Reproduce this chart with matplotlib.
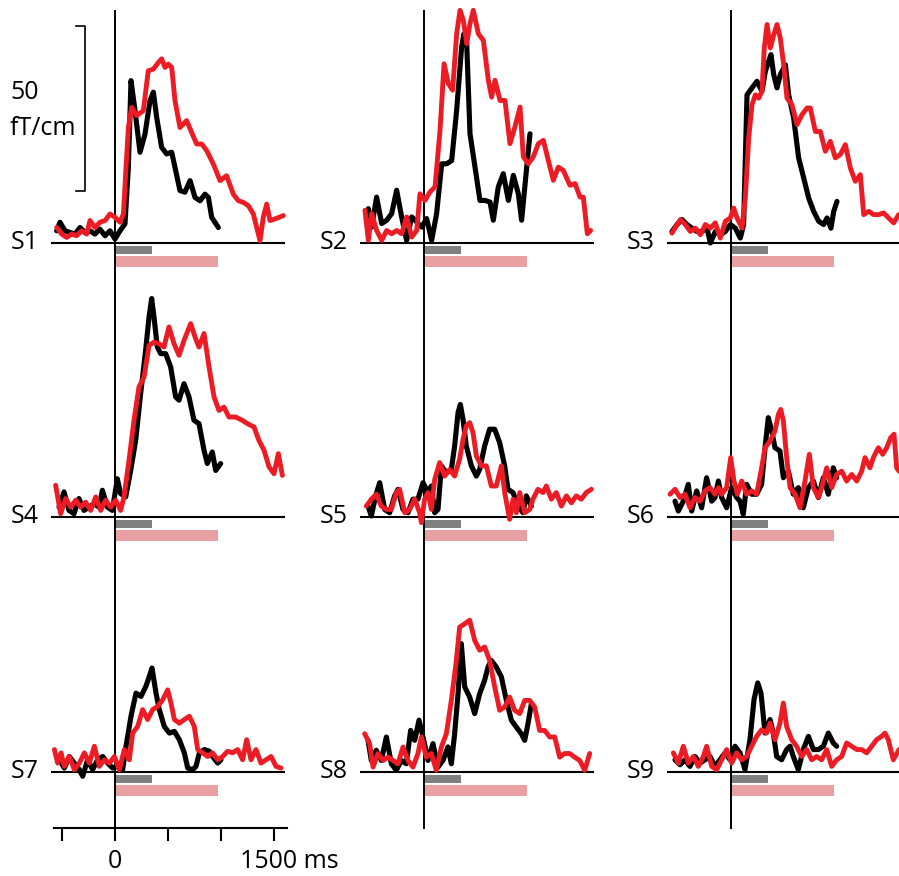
import matplotlib
matplotlib.use('Agg')
import matplotlib.pyplot as plt
from matplotlib.transforms import ScaledTranslation

plt.rcParams['font.family'] = ['Open Sans', 'DejaVu Sans']

# ---- data (time in ms, amplitude in fT/cm) ----
s1_black_t = [-550,-519,-472,-425,-377,-330,-283,-236,-189,-142,-94,-47,0,47,94,126,151,189,236,283,330,362,393,440,487,535,566,613,660,708,755,802,849,881,912,975]
s1_black_v = [3.7,6.3,3.7,3.2,2.7,4.7,3.2,3.7,2.7,4.2,2.2,3.7,1.2,3.7,5.8,22.9,49.2,40.1,27.5,33.0,43.1,45.7,38.1,29.0,27.0,27.5,22.9,15.9,15.4,18.9,13.8,12.8,14.8,13.8,7.8,4.7]
s1_red_t = [-550,-503,-456,-409,-362,-314,-267,-236,-189,-142,-94,-47,0,47,79,104,126,157,204,267,314,362,409,440,472,503,535,566,613,676,723,770,818,865,928,991,1053,1116,1164,1211,1258,1305,1368,1399,1431,1462,1509,1588]
s1_red_v = [4.7,2.7,1.7,2.7,2.2,3.7,2.7,6.8,4.7,6.3,6.8,8.8,7.8,6.3,8.8,22.9,35.0,41.1,38.6,40.1,52.2,52.7,54.7,55.8,53.2,54.2,53.2,43.1,35.0,37.1,33.5,30.0,30.0,28.0,23.9,18.9,20.4,14.8,12.8,12.3,11.3,8.8,0.7,7.8,11.8,6.8,7.3,8.3]

s2_black_t = [-525,-494,-447,-399,-352,-305,-258,-211,-164,-116,-69,-22,25,72,119,167,214,261,308,355,377,403,434,481,528,575,623,654,701,748,796,843,890,921,969,1000]
s2_black_v = [10.4,4.8,13.9,5.9,6.9,8.9,16.0,7.9,0.8,7.9,6.4,4.8,7.4,0.8,8.9,24.0,24.0,25.0,40.2,59.4,63.4,60.4,33.1,23.0,12.9,12.9,12.4,6.9,17.0,21.0,12.9,20.5,14.9,6.9,23.0,33.1]
s2_red_t = [-557,-525,-494,-447,-399,-352,-305,-258,-211,-164,-116,-69,-38,9,57,104,151,189,230,270,308,340,371,403,434,465,513,560,607,638,670,717,764,811,858,906,937,984,1031,1079,1126,1173,1220,1267,1314,1377,1425,1472,1503,1541,1572]
s2_red_v = [9.9,0.8,8.9,3.8,0.8,3.8,2.8,3.8,2.8,7.9,1.8,3.8,14.9,12.9,15.5,17.0,34.1,54.3,48.3,46.3,63.4,70.5,67.5,60.4,66.5,70.5,63.4,61.4,49.3,44.2,49.3,43.2,43.2,30.1,35.2,41.2,26.1,24.0,26.1,30.1,31.1,25.0,19.0,23.0,22.0,17.5,18.0,13.9,13.9,2.8,3.8]

s3_black_t = [-557,-509,-462,-415,-368,-321,-274,-226,-195,-148,-101,-53,-6,41,88,119,151,198,245,292,324,355,377,403,434,465,513,544,591,638,686,733,780,827,874,906,943,969,1000]
s3_black_v = [3.5,5.6,7.1,5.6,4.5,3.5,3.5,4.5,0.0,3.5,2.5,3.5,5.6,4.5,1.5,5.6,44.9,47.0,49.0,46.0,52.0,55.0,57.1,51.0,47.0,51.0,54.0,44.9,37.9,25.8,19.7,13.6,9.6,6.6,5.6,7.6,4.5,9.6,12.6]
s3_red_t = [-557,-509,-478,-431,-384,-336,-289,-242,-195,-148,-101,-53,-6,25,57,104,135,167,198,230,261,292,314,340,371,403,434,465,497,528,575,623,670,717,748,796,843,890,937,984,1031,1079,1126,1173,1220,1252,1299,1346,1393,1440,1487,1535,1582]
s3_red_v = [3.0,5.6,7.1,5.6,3.5,4.5,2.5,5.6,4.5,6.1,1.5,6.6,7.6,10.6,7.6,4.5,13.6,31.8,41.9,44.9,43.9,46.0,59.1,66.2,59.1,63.1,66.2,62.1,54.0,43.9,41.9,35.9,38.9,40.9,40.9,33.8,33.8,27.8,30.8,25.8,26.8,29.8,22.7,18.7,20.7,8.6,9.6,8.6,8.6,9.1,7.6,6.1,8.6]

s4_black_t = [-528,-481,-434,-387,-340,-292,-245,-198,-151,-119,-72,-25,22,53,101,148,195,242,289,321,346,368,399,431,478,525,572,604,651,698,745,792,840,871,918,950,997]
s4_black_v = [3.0,7.6,2.0,1.0,5.6,2.0,3.0,4.0,3.0,8.1,3.0,2.0,11.6,7.1,6.1,14.1,23.2,37.4,50.5,60.6,66.2,60.6,51.5,49.5,49.5,45.5,36.4,35.4,40.4,36.4,29.3,28.3,20.2,16.2,19.7,14.1,16.2]
s4_red_t = [-560,-513,-465,-418,-371,-324,-277,-230,-182,-135,-88,-41,6,53,85,132,179,226,274,321,368,415,462,509,557,604,651,714,761,792,840,887,934,981,1028,1075,1138,1201,1248,1311,1358,1406,1453,1500,1541,1579]
s4_red_v = [9.6,1.0,5.6,3.0,5.1,3.0,4.5,2.0,6.1,2.0,5.1,3.0,5.1,2.0,6.1,17.2,29.3,39.4,42.4,52.0,53.0,52.5,51.5,57.6,52.5,49.0,53.5,58.6,54.0,51.5,55.6,45.5,36.4,32.3,33.3,30.3,30.3,29.3,28.3,27.3,23.2,20.2,15.2,13.1,19.2,12.6]

s5_black_t = [-528,-497,-456,-418,-371,-324,-277,-245,-198,-151,-104,-57,-9,38,69,101,132,164,211,258,289,321,343,368,399,447,494,525,572,619,667,714,761,792,840,887,934,965,1013]
s5_black_v = [3.3,0.3,6.4,10.4,2.3,1.3,6.4,8.4,2.3,1.3,5.4,5.4,10.4,7.4,9.4,1.3,2.3,15.5,13.4,14.4,21.5,31.6,34.1,29.6,21.5,15.5,12.4,14.4,21.5,26.6,26.6,22.5,15.5,8.4,7.4,3.3,1.3,6.4,3.3]
s5_red_t = [-544,-497,-450,-403,-355,-308,-261,-230,-182,-135,-88,-41,-25,6,38,69,101,148,195,242,289,336,368,399,431,462,494,541,588,635,682,730,761,808,840,871,903,950,997,1028,1075,1123,1154,1201,1248,1296,1343,1390,1437,1484,1531,1579]
s5_red_v = [3.3,5.4,6.9,3.3,2.3,2.3,7.4,8.4,1.3,2.3,5.4,1.3,-1.7,5.4,7.4,2.3,11.4,16.5,12.4,14.4,12.4,17.5,23.5,27.6,28.6,25.6,18.5,15.5,15.5,9.4,9.4,15.5,7.4,-0.7,5.4,1.3,7.4,1.3,2.3,5.4,8.4,7.4,9.4,5.4,7.4,3.3,6.4,4.3,6.4,5.4,7.4,8.4]

s6_black_t = [-528,-497,-450,-403,-371,-324,-277,-230,-182,-151,-119,-88,-41,6,53,85,116,148,195,242,289,321,352,384,415,462,494,541,588,635,682,730,777,824,871,918,965,997]
s6_black_v = [4.8,1.8,4.8,9.9,1.8,7.9,2.8,11.9,4.8,5.9,10.9,5.9,2.8,8.9,5.9,4.8,0.8,9.9,6.9,6.9,9.9,21.0,30.1,26.1,21.0,20.0,11.9,13.9,6.9,8.9,2.8,8.9,10.9,5.9,11.9,6.9,14.9,11.9]
s6_red_t = [-575,-528,-481,-434,-387,-340,-292,-245,-198,-151,-119,-88,-41,-3,28,60,101,148,195,242,289,321,368,415,447,469,494,525,557,604,651,698,739,777,824,855,903,950,997,1044,1091,1138,1186,1233,1264,1311,1343,1390,1431,1469,1506,1538,1563,1585]
s6_red_v = [6.9,8.4,5.9,6.9,2.8,5.9,4.8,7.9,8.9,6.9,8.9,6.9,8.9,18.0,10.9,6.9,10.9,6.9,7.9,6.9,14.9,21.0,23.0,26.1,31.1,32.6,29.1,18.0,8.9,6.9,2.8,10.9,19.0,8.9,5.9,8.9,14.9,8.9,12.9,13.9,10.9,12.9,10.9,13.9,18.0,14.9,18.0,21.0,19.0,21.0,24.0,25.1,14.9,13.9]

s7_black_t = [-525,-478,-431,-384,-336,-305,-258,-211,-164,-116,-69,-22,25,72,104,151,198,245,292,324,349,387,418,465,513,560,607,654,686,733,764,796,843,890,921,969,1000]
s7_black_v = [3.7,1.2,4.7,2.7,0.7,-1.3,3.7,0.7,3.7,4.7,2.7,1.2,1.7,0.7,7.8,16.9,23.9,22.9,26.0,29.0,31.5,23.9,18.9,13.8,11.8,12.3,9.8,5.8,1.2,0.7,1.7,5.8,6.8,6.3,4.7,2.7,3.7]
s7_red_t = [-572,-541,-509,-478,-431,-384,-336,-289,-242,-195,-148,-101,-53,-6,41,88,135,167,214,261,308,355,403,450,497,528,560,607,654,701,748,780,827,874,921,969,1016,1063,1110,1157,1204,1242,1283,1330,1377,1425,1472,1519,1566]
s7_red_v = [6.8,2.7,5.8,1.7,4.7,0.7,2.7,5.8,2.7,7.8,1.7,3.7,2.7,4.7,0.7,6.8,3.7,11.8,13.8,18.9,15.9,18.9,19.9,21.9,24.9,20.9,15.9,14.8,15.9,16.9,13.8,6.8,5.8,4.7,5.8,3.7,4.7,6.3,5.8,6.8,3.7,9.8,3.7,6.8,2.7,3.7,4.7,1.7,1.2]

s8_black_t = [-528,-497,-450,-403,-355,-308,-261,-214,-167,-126,-88,-47,-9,38,85,132,179,226,258,289,321,352,384,431,478,525,572,604,635,682,730,777,824,871,918,950,981,1013]
s8_black_v = [9.6,3.5,6.6,3.5,10.6,2.5,0.5,3.5,2.5,12.6,9.6,15.7,10.6,3.5,8.6,1.5,3.5,7.6,2.5,11.6,23.7,38.9,25.8,22.7,17.7,23.7,27.8,31.8,33.8,31.8,28.8,21.7,15.7,13.6,11.6,9.6,14.6,20.7]
s8_red_t = [-560,-513,-481,-434,-387,-340,-292,-245,-198,-151,-104,-57,-25,22,69,116,164,211,258,305,336,384,431,478,525,572,619,667,714,761,808,855,903,950,997,1044,1091,1138,1186,1233,1280,1327,1374,1421,1469,1516,1563]
s8_red_v = [11.6,8.6,1.5,5.6,3.5,4.5,3.5,2.5,7.6,3.5,1.5,5.6,10.6,4.5,5.6,0.5,7.6,11.6,21.7,33.8,43.9,44.9,46.0,39.9,36.9,37.9,33.8,25.8,18.7,19.7,22.7,18.7,17.7,21.7,21.7,19.7,12.6,12.6,10.6,10.6,4.5,5.6,5.6,4.5,3.5,0.5,5.6]

s9_black_t = [-528,-481,-434,-387,-340,-292,-245,-198,-151,-104,-57,-9,38,85,132,179,217,252,283,321,368,399,431,478,525,557,588,635,682,730,777,824,871,918,965,997]
s9_black_v = [3.7,2.2,3.7,1.7,4.7,2.7,3.7,4.7,1.7,3.7,5.8,3.7,7.8,5.8,0.7,9.8,21.9,27.0,23.9,11.8,15.9,11.8,4.7,3.7,6.8,7.8,4.7,0.7,6.8,10.8,6.8,6.8,7.8,11.8,8.8,7.8]
s9_red_t = [-544,-497,-450,-403,-355,-308,-261,-230,-182,-135,-88,-41,6,53,101,148,195,242,289,336,368,415,462,494,525,572,619,667,714,761,808,855,903,950,997,1044,1091,1138,1186,1233,1280,1327,1374,1421,1453,1484,1531,1585]
s9_red_v = [5.8,2.7,7.8,2.7,4.7,1.7,4.7,7.8,1.7,0.7,3.7,6.8,2.7,5.8,3.7,4.7,7.8,10.8,12.8,11.8,14.8,9.8,14.8,20.9,13.8,9.8,7.8,4.7,6.8,3.7,4.7,3.7,6.8,1.7,3.7,4.7,8.8,7.8,6.8,6.8,5.8,7.8,9.8,10.8,11.8,9.8,3.7,6.8]

subjects = ['S1', 'S2', 'S3', 'S4', 'S5', 'S6', 'S7', 'S8', 'S9']
black_traces = [(s1_black_t, s1_black_v), (s2_black_t, s2_black_v), (s3_black_t, s3_black_v),
                (s4_black_t, s4_black_v), (s5_black_t, s5_black_v), (s6_black_t, s6_black_v),
                (s7_black_t, s7_black_v), (s8_black_t, s8_black_v), (s9_black_t, s9_black_v)]
red_traces = [(s1_red_t, s1_red_v), (s2_red_t, s2_red_v), (s3_red_t, s3_red_v),
              (s4_red_t, s4_red_v), (s5_red_t, s5_red_v), (s6_red_t, s6_red_v),
              (s7_red_t, s7_red_v), (s8_red_t, s8_red_v), (s9_red_t, s9_red_v)]

gray_window = (0, 350)    # ms
pink_window = (0, 970)    # ms
scale_bar = 50            # fT/cm
x_ticks = [-500, 0, 500, 1000, 1500]

# ---- layout (pixels) ----
W, H = 899, 876
PX_MS = 0.106   # pixels per ms
PX_FT = 3.3     # pixels per fT/cm
col_zero = [115, 424, 731]
row_base = [243, 517, 772]
row_top = [10, 275, 530]
row_bot = [275, 530, 829]

RED = '#ed1c24'
fig = plt.figure(figsize=(W / 100, H / 100), dpi=100)

axes = []
for i, name in enumerate(subjects):
    r, c = divmod(i, 3)
    bot = row_bot[r] + (11 if (r == 2 and c == 0) else 0)
    left = col_zero[c] - 700 * PX_MS
    ax = fig.add_axes([left / W, 1 - bot / H, 2400 * PX_MS / W, (bot - row_top[r]) / H])
    ax.set_xlim(-700, 1700)
    ax.set_ylim(-(bot - row_base[r]) / PX_FT, (row_base[r] - row_top[r]) / PX_FT)
    ax.axis('off')
    ax.barh(-2.0, gray_window[1] - gray_window[0], height=2.4, left=gray_window[0],
            color='#808080', clip_on=False)
    ax.barh(-5.5, pink_window[1] - pink_window[0], height=3.3, left=pink_window[0],
            color='#e8a0a3', clip_on=False)
    ax.hlines(0, -600, 1600, color='k', lw=1.5)
    ax.axvline(0, color='k', lw=1.4)
    bt, bv = black_traces[i]
    rt, rv = red_traces[i]
    ax.plot(bt, bv, color='k', lw=3.7, solid_joinstyle='round', solid_capstyle='round', clip_on=False)
    ax.plot(rt, rv, color=RED, lw=3.5, solid_joinstyle='round', solid_capstyle='round', clip_on=False)
    ax.text(-720, 0.3, name, ha='right', va='center', fontsize=18)
    axes.append(ax)

# scale bar in first panel
ax = axes[0]
sx, sy0 = -283, 15.8
ax.plot([sx - 85, sx, sx, sx - 85], [sy0 + scale_bar, sy0 + scale_bar, sy0, sy0],
        color='k', lw=1.2, clip_on=False)
ax.text(-990, 45.5, '50', ha='left', va='center', fontsize=18)
ax.text(-990, 34.8, 'fT/cm', ha='left', va='center', fontsize=18)

# time axis under the first column
axx = fig.add_axes([(col_zero[0] - 700 * PX_MS) / W, 1 - 828 / H, 2400 * PX_MS / W, 0.01])
axx.set_xlim(-700, 1700)
axx.patch.set_visible(False)
for s in ['left', 'right', 'top']:
    axx.spines[s].set_visible(False)
axx.spines['bottom'].set_bounds(-580, 1620)
axx.spines['bottom'].set_linewidth(1.5)
axx.set_yticks([])
axx.set_xticks(x_ticks)
axx.set_xticklabels(['', '0', '', '', '1500 ms'])
axx.tick_params(axis='x', direction='out', length=9, width=1.5, pad=6, labelsize=18)
lbl = axx.xaxis.get_major_ticks()[4].label1
lbl.set_horizontalalignment('left')
lbl.set_transform(lbl.get_transform() + ScaledTranslation(-0.34, 0, fig.dpi_scale_trans))

fig.savefig('out.png', dpi=100)
